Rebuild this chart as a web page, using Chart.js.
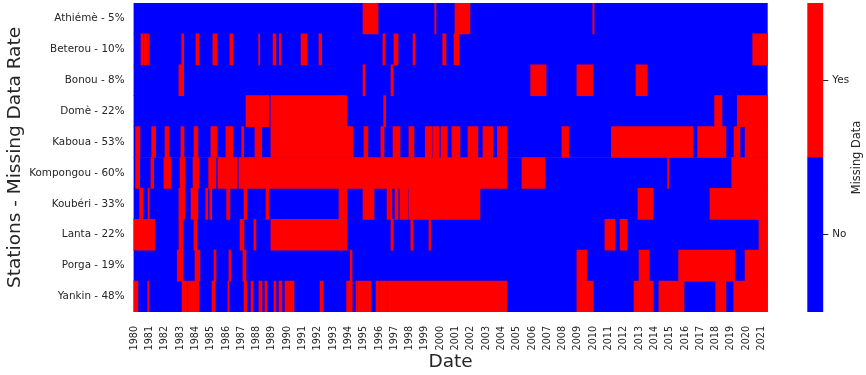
<!DOCTYPE html>
<html>
<head>
<meta charset="utf-8">
<script src="https://cdn.jsdelivr.net/npm/chart.js@4.4.1/dist/chart.umd.min.js"></script>
<style>
  html, body { margin: 0; padding: 0; background: #fff; }
  #wrap { position: relative; width: 866px; height: 375px; }
  #heatmap { position: absolute; left: 0; top: 0; }
  #colorbar { position: absolute; left: 790px; top: 0; }
</style>
</head>
<body>
<div id="wrap">
  <canvas id="heatmap" width="866" height="375"></canvas>
  <canvas id="colorbar" width="76" height="375"></canvas>
</div>
<script>
// stations (top to bottom) with their missing data rate
const stations = ["Athiémè - 5%", "Beterou - 10%", "Bonou - 8%", "Domè - 22%", "Kaboua - 53%",
    "Kompongou - 60%", "Koubéri - 33%", "Lanta - 22%", "Porga - 19%", "Yankin - 48%"]

const yearTicks = [1980, 1981, 1982, 1983, 1984, 1985, 1986, 1987, 1988, 1989, 1990, 1991, 1992, 1993,
    1994, 1995, 1996, 1997, 1998, 1999, 2000, 2001, 2002, 2003, 2004, 2005, 2006, 2007,
    2008, 2009, 2010, 2011, 2012, 2013, 2014, 2015, 2016, 2017, 2018, 2019, 2020, 2021]

// period covered by the records (decimal years)
const periodStart = 1979.95
const periodEnd = 2021.4

// missing data periods per station, [from, to] in decimal years
const athiemeMissing = [[1994.95, 1995.93], [1999.64, 1999.72], [2000.96, 2001.94], [2009.97, 2010.05]]
const beterouMissing = [[1980.44, 1980.57], [1980.63, 1980.83], [1980.90, 1980.98], [1983.10, 1983.23],
    [1984.03, 1984.23], [1985.14, 1985.41], [1986.25, 1986.45], [1988.13, 1988.20], [1989.07, 1989.26],
    [1989.48, 1989.59], [1990.90, 1991.29], [1992.07, 1992.25], [1996.25, 1996.39], [1996.97, 1997.24],
    [1998.22, 1998.35], [2000.16, 2000.37], [2000.90, 2001.22], [2020.42, 2021.40]]
const bonouMissing = [[1982.92, 1983.23], [1994.95, 1995.08], [1996.78, 1996.93], [2005.91, 2006.91],
    [2008.93, 2009.96], [2012.79, 2013.53]]
const domeMissing = [[1987.30, 1988.80], [1988.93, 1993.90], [1996.30, 1996.43], [2017.93, 2018.41],
    [2019.41, 2021.40]]
const kabouaMissing = [[1980.09, 1980.37], [1981.14, 1981.40], [1982.01, 1982.27], [1983.05, 1983.25],
    [1983.90, 1984.16], [1985.01, 1985.41], [1985.99, 1986.45], [1987.02, 1987.15], [1987.89, 1988.33],
    [1988.93, 1994.29], [1995.01, 1995.27], [1996.12, 1996.32], [1996.91, 1997.37], [1997.95, 1998.28],
    [1999.02, 1999.46], [1999.52, 1999.92], [2000.05, 2000.46], [2000.76, 2001.29], [2001.81, 2002.46],
    [2002.79, 2003.44], [2003.73, 2003.95], [2004.03, 2004.36], [2007.95, 2008.39], [2011.18, 2016.52],
    [2016.82, 2018.67], [2019.20, 2019.59], [2019.92, 2021.40]]
const kompongouMissing = [[1980.09, 1980.35], [1981.09, 1981.27], [1981.94, 1982.38], [1982.99, 1983.31],
    [1983.84, 1984.23], [1984.86, 1985.34], [1985.47, 1986.71], [1986.84, 2004.34], [2005.34, 2006.84],
    [2014.86, 2014.94], [2019.05, 2021.40]]
const kouberiMissing = [[1980.35, 1980.57], [1980.90, 1980.98], [1982.92, 1983.31], [1983.71, 1984.16],
    [1984.67, 1984.80], [1984.93, 1985.06], [1986.04, 1986.25], [1987.17, 1987.35], [1988.61, 1988.80],
    [1993.38, 1993.90], [1994.95, 1995.67], [1996.52, 1996.65], [1996.71, 1996.84], [1997.04, 1997.24],
    [1997.37, 1997.89], [1997.95, 2002.59], [2012.92, 2013.92], [2017.63, 2021.40]]
const lantaMissing = [[1979.95, 1981.35], [1982.92, 1983.20], [1983.90, 1984.10], [1986.91, 1987.17],
    [1987.82, 1987.95], [1988.93, 1993.90], [1996.78, 1996.93], [1998.08, 1998.22], [1999.26, 1999.37],
    [2010.76, 2011.42], [2011.75, 2012.22], [2020.83, 2021.40]]
const porgaMissing = [[1982.81, 1983.20], [1983.97, 1984.29], [1985.21, 1985.34], [1986.19, 1986.32],
    [1987.10, 1987.30], [1994.12, 1994.23], [2008.93, 2009.57], [2012.99, 2013.66], [2015.58, 2019.24],
    [2019.92, 2021.40]]
const yankinMissing = [[1979.95, 1980.24], [1980.88, 1980.96], [1983.12, 1983.44], [1983.51, 1984.23],
    [1985.08, 1985.29], [1986.12, 1986.19], [1987.17, 1987.35], [1987.63, 1987.76], [1988.15, 1988.35],
    [1988.54, 1988.67], [1989.13, 1989.26], [1989.46, 1989.65], [1989.85, 1990.44], [1992.14, 1992.35],
    [1993.88, 1994.25], [1994.49, 1994.58], [1994.64, 1995.47], [1995.80, 1995.99], [1996.06, 1996.50],
    [1996.56, 2004.34], [2008.93, 2010.00], [2012.66, 2013.92], [2014.29, 2015.93], [2018.00, 2018.67],
    [2019.18, 2021.40]]

const missingByStation = [athiemeMissing, beterouMissing, bonouMissing, domeMissing, kabouaMissing,
    kompongouMissing, kouberiMissing, lantaMissing, porgaMissing, yankinMissing]

const colorbarLabels = ["No", "Yes"]

const RED = "#ff0000"
const BLUE = "#0000ff"
const TEXT = "#262626"

Chart.defaults.font.family = "'DejaVu Sans', sans-serif"
Chart.defaults.color = TEXT

// build bar data from the arrays above
const missingBars = []
missingByStation.forEach((list, i) => {
    list.forEach((p) => missingBars.push({ y: stations[i], x: p }))
})
const presentBars = stations.map((s) => ({ y: s, x: [periodStart, periodEnd] }))

// stop the scales from pushing the plot area in for their end labels
const noEdgePadding = (scale) => {
    scale.paddingTop = 0
    scale.paddingBottom = 0
    scale.paddingLeft = 0
    scale.paddingRight = 0
}

new Chart(document.getElementById("heatmap"), {
    type: "bar",
    data: {
        labels: stations,
        datasets: [
            {
                label: "Yes",
                data: missingBars,
                backgroundColor: RED,
                order: 0,
            },
            {
                label: "No",
                data: presentBars,
                backgroundColor: BLUE,
                order: 1,
            },
        ],
    },
    options: {
        indexAxis: "y",
        responsive: false,
        animation: false,
        events: [],
        layout: { padding: { top: 3, right: 98.3, bottom: 0, left: 0 } },
        datasets: {
            bar: {
                grouped: false,
                barPercentage: 1,
                categoryPercentage: 1,
                borderWidth: 0,
            },
        },
        plugins: {
            legend: { display: false },
            tooltip: { enabled: false },
        },
        scales: {
            x: {
                type: "linear",
                min: periodStart,
                max: periodEnd,
                grid: { display: false, drawTicks: false },
                border: { display: false },
                afterBuildTicks: (scale) => {
                    scale.ticks = yearTicks.map((v) => ({ value: v }))
                },
                afterFit: (scale) => {
                    scale.height = 63
                    noEdgePadding(scale)
                },
                ticks: {
                    autoSkip: false,
                    minRotation: 90,
                    maxRotation: 90,
                    padding: 14,
                    font: { size: 9.6 },
                    callback: (v) => String(v),
                },
                title: {
                    display: true,
                    text: "Date",
                    font: { size: 18.5 },
                    padding: { top: 0, bottom: 2 },
                },
            },
            y: {
                grid: { display: false, drawTicks: false },
                border: { display: false },
                afterFit: (scale) => {
                    scale.width = 133.5
                    noEdgePadding(scale)
                },
                ticks: {
                    padding: 9,
                    font: { size: 10.4 },
                },
                title: {
                    display: true,
                    text: "Stations - Missing Data Rate",
                    font: { size: 18.5 },
                    padding: { top: 4, bottom: 0 },
                },
            },
        },
    },
})

// colorbar label, reads bottom to top like the reference
const colorbarTitle = {
    id: "colorbarTitle",
    afterDraw(chart) {
        const ctx = chart.ctx
        ctx.save()
        ctx.translate(67, (chart.chartArea.top + chart.chartArea.bottom) / 2)
        ctx.rotate(-Math.PI / 2)
        ctx.font = "11.4px 'DejaVu Sans', sans-serif"
        ctx.fillStyle = TEXT
        ctx.textAlign = "center"
        ctx.textBaseline = "middle"
        ctx.fillText("Missing Data", 0, 0)
        ctx.restore()
    },
}

new Chart(document.getElementById("colorbar"), {
    type: "bar",
    data: {
        labels: [""],
        datasets: [
            { label: colorbarLabels[0], data: [[0, 1]], backgroundColor: BLUE },
            { label: colorbarLabels[1], data: [[1, 2]], backgroundColor: RED },
        ],
    },
    options: {
        responsive: false,
        animation: false,
        events: [],
        layout: { padding: { top: 3, right: 0, bottom: 63, left: 17.3 } },
        datasets: {
            bar: {
                grouped: false,
                barPercentage: 1,
                categoryPercentage: 1,
                borderWidth: 0,
            },
        },
        plugins: {
            legend: { display: false },
            tooltip: { enabled: false },
        },
        scales: {
            x: { display: false },
            y: {
                position: "right",
                min: 0,
                max: 2,
                border: { display: false },
                grid: {
                    display: true,
                    drawOnChartArea: false,
                    drawTicks: true,
                    tickLength: 5,
                    color: TEXT,
                },
                afterBuildTicks: (scale) => {
                    scale.ticks = colorbarLabels.map((l, i) => ({ value: i + 0.5 }))
                },
                afterFit: (scale) => {
                    scale.width = 42.7
                    noEdgePadding(scale)
                },
                ticks: {
                    padding: 4,
                    font: { size: 10.4 },
                    callback: (v) => colorbarLabels[Math.floor(v)],
                },
            },
        },
    },
    plugins: [colorbarTitle],
})
</script>
</body>
</html>
